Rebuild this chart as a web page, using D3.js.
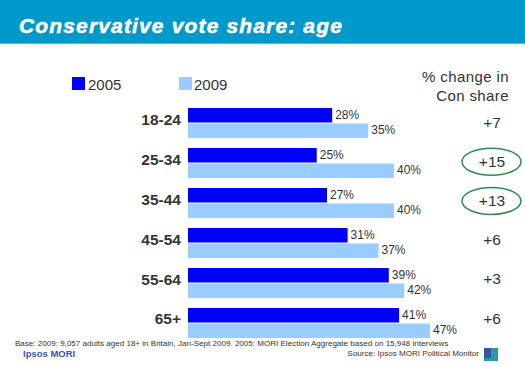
<!DOCTYPE html>
<html>
<head>
<meta charset="utf-8">
<script src="https://cdn.jsdelivr.net/npm/d3@7/dist/d3.min.js"></script>
<style>
  html, body { margin: 0; padding: 0; background: #fff; }
  svg { display: block; }
  text { font-family: "Liberation Sans", Arial, sans-serif; fill: #333; }
</style>
</head>
<body>
<div id="chart"></div>
<script>
var ages = ["18-24", "25-34", "35-44", "45-54", "55-64", "65+"];
var share2005 = [28, 25, 27, 31, 39, 41];
var share2009 = [35, 40, 40, 37, 42, 47];
var changes = ["+7", "+15", "+13", "+6", "+3", "+6"];
var circled = ["25-34", "35-44"];
var seriesNames = ["2005", "2009"];

var width = 525, height = 366;

var svg = d3.select("#chart").append("svg")
  .attr("width", width)
  .attr("height", height);

// header band
svg.append("rect").attr("width", width).attr("height", 43).attr("fill", "#0099cc");
svg.append("rect").attr("y", 43).attr("width", width).attr("height", 1).attr("fill", "#55b8dc");
svg.append("text")
  .attr("x", 19).attr("y", 33)
  .style("font-size", "21px").style("font-weight", "bold").style("font-style", "italic")
  .style("fill", "#fff").style("stroke", "#fff").style("stroke-width", "0.5px")
  .style("letter-spacing", "1.15px")
  .text("Conservative vote share: age");

var x = d3.scaleLinear().domain([0, 47]).range([188, 430]);
var y = d3.scaleBand().domain(ages).range([103, 343]).paddingInner(0.25).paddingOuter(0.125);
var barH = y.bandwidth() / 2;

// the text columns sit on a slightly tighter pitch than the bars
var labelY = d3.scalePoint().domain(ages).range([119.5, 319]);
var changeY = d3.scalePoint().domain(ages).range([122, 318]);

// age labels
var yAxis = d3.axisLeft(labelY).tickSize(0).tickPadding(7);
var axisG = svg.append("g").attr("transform", "translate(188,0)").call(yAxis);
axisG.select(".domain").remove();
axisG.selectAll("text")
  .style("font-family", '"Liberation Sans", Arial, sans-serif')
  .style("font-size", "15.5px").style("font-weight", "bold").style("fill", "#333");

function drawSeries(values, colour, offset) {
  var g = svg.append("g");
  g.selectAll("rect").data(values).enter().append("rect")
    .attr("x", x(0))
    .attr("y", function(d, i) { return y(ages[i]) + offset; })
    .attr("width", function(d) { return x(d) - x(0); })
    .attr("height", barH - 0.5)
    .attr("fill", colour);
  g.selectAll("text").data(values).enter().append("text")
    .attr("x", function(d) { return x(d) + 3; })
    .attr("y", function(d, i) { return y(ages[i]) + offset + barH / 2 + 3; })
    .style("font-size", "12px")
    .text(function(d) { return d + "%"; });
}
drawSeries(share2005, "#0000ff", 0);
drawSeries(share2009, "#99ccff", barH + 0.5);

// legend
var legendX = d3.scaleOrdinal().domain(seriesNames).range([72, 179]);
var legendColour = d3.scaleOrdinal().domain(seriesNames).range(["#0000ff", "#99ccff"]);
seriesNames.forEach(function(name) {
  svg.append("rect").attr("x", legendX(name)).attr("y", 77)
    .attr("width", 13).attr("height", 13).attr("fill", legendColour(name));
  svg.append("text").attr("x", legendX(name) + 16 - (name == "2009" ? 1 : 0)).attr("y", 90)
    .style("font-size", "15px").text(name);
});

// change column
svg.append("text").attr("x", 509).attr("y", 82).attr("text-anchor", "end")
  .style("font-size", "15px").style("letter-spacing", "0.4px").text("% change in");
svg.append("text").attr("x", 509).attr("y", 101).attr("text-anchor", "end")
  .style("font-size", "15px").style("letter-spacing", "0.4px").text("Con share");

var changeG = svg.append("g");
changeG.selectAll("text").data(changes).enter().append("text")
  .attr("x", 492)
  .attr("y", function(d, i) { return changeY(ages[i]) + 5.5; })
  .attr("text-anchor", "middle")
  .style("font-size", "15.5px")
  .text(function(d) { return d; });
changeG.selectAll("ellipse").data(circled).enter().append("ellipse")
  .attr("cx", 491.5)
  .attr("cy", function(d) { return changeY(d) + 0.5; })
  .attr("rx", 29.5).attr("ry", 13.5)
  .attr("fill", "none").attr("stroke", "#2e8b4e").attr("stroke-width", 1.5);

// footer
svg.append("text").attr("x", 15).attr("y", 346)
  .style("font-size", "8.05px").text("Base: 2009: 9,057 adults aged 18+ in Britain, Jan-Sept 2009.  2005: MORI Election Aggregate based on 15,948 interviews");
svg.append("text").attr("x", 23).attr("y", 356.5)
  .style("font-size", "9.5px").style("font-weight", "bold").style("fill", "#3b55a5")
  .text("Ipsos MORI");
svg.append("text").attr("x", 479).attr("y", 356).attr("text-anchor", "end")
  .style("font-size", "8.05px").text("Source: Ipsos MORI Political Monitor");
svg.append("rect").attr("x", 484).attr("y", 348).attr("width", 14).attr("height", 13).attr("fill", "#2a9aa8");
svg.append("rect").attr("x", 484).attr("y", 348).attr("width", 7).attr("height", 10).attr("fill", "#3b55a5");
</script>
</body>
</html>
